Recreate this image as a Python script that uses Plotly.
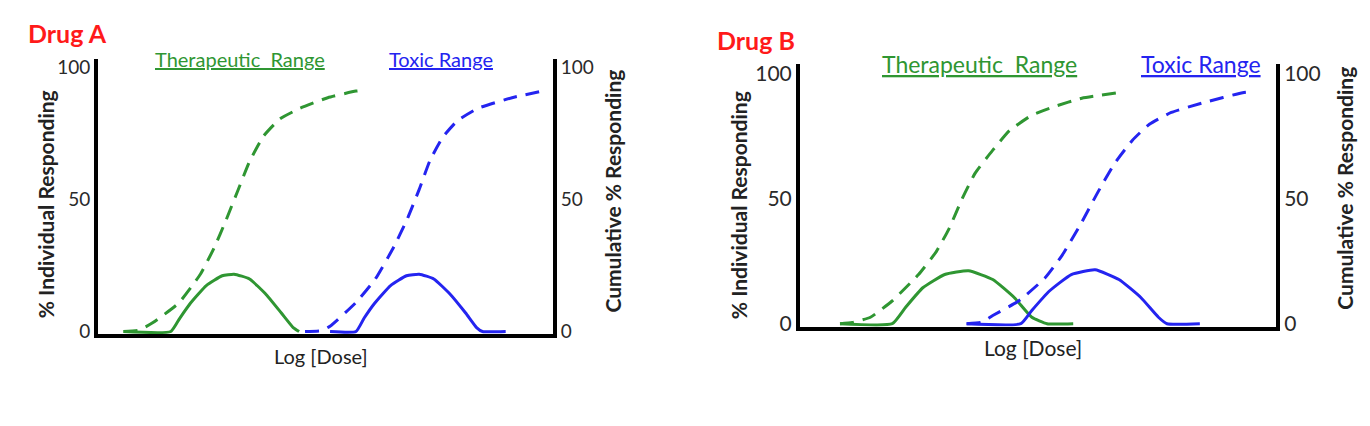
import plotly.graph_objects as go

W, H = 1370, 426
FONT = "Lato"
GREEN = "#2f9632"
BLUE = "#2424f0"

# x = position along Log[Dose] axis (0-100 % of axis width); y = % responding
# ---------- Drug A ----------
a_ther_ind_x = [5.6, 16.0, 18.0, 20.3, 23.8, 27.3, 29.9, 33.3, 36.8, 40.3, 42.9, 44.2]
a_ther_ind_y = [0, 0, 5.1, 10.7, 17.4, 21.1, 21.7, 19.9, 14.3, 7.0, 1.5, 0]
a_tox_ind_x = [51.0, 56.7, 58.5, 60.8, 64.3, 67.8, 70.6, 73.8, 77.3, 80.8, 83.2, 84.5, 89.6]
a_tox_ind_y = [0, 0, 5.1, 10.7, 17.4, 21.1, 21.7, 19.9, 14.3, 7.0, 1.5, 0, 0]
a_ther_cum_x = [5.6, 9.0, 12.0, 17.7, 22.5, 25.5, 28.1, 30.7, 33.3, 36.4, 40.0, 44.4, 50.5, 56.7, 58.5]
a_ther_cum_y = [0, 0.5, 3.3, 10.7, 21.7, 31.6, 42.0, 53.2, 64.3, 74.0, 80.5, 84.5, 88.5, 91.0, 91.3]
a_tox_cum_x = [45.5, 49.0, 51.0, 56.7, 61.0, 65.0, 68.0, 70.6, 73.0, 75.8, 79.0, 83.5, 91.0, 98.5]
a_tox_cum_y = [0, 0.3, 2.0, 11.0, 20.0, 32.0, 42.7, 53.8, 64.9, 73.6, 79.8, 84.5, 88.5, 91.3]

# ---------- Drug B ----------
b_ther_ind_x = [8.4, 19.4, 22.2, 25.8, 30.4, 35.4, 40.5, 45.0, 48.7, 51.9, 57.4]
b_ther_ind_y = [0, 0, 6.6, 14.4, 19.7, 21.2, 17.7, 10.5, 2.6, 0, 0]
b_tox_ind_x = [35.0, 46.4, 48.7, 52.4, 57.0, 62.0, 67.0, 71.6, 75.3, 77.1, 84.0]
b_tox_ind_y = [0, 0, 5.3, 13.1, 19.7, 21.6, 17.7, 10.5, 2.6, 0, 0]
b_ther_cum_x = [8.4, 11.0, 14.8, 19.4, 24.9, 28.6, 31.3, 34.0, 36.8, 40.5, 44.0, 48.7, 53.5, 59.2, 67.9]
b_ther_cum_y = [0, 0.5, 2.6, 9.2, 19.7, 28.8, 38.0, 49.8, 60.3, 69.5, 77.3, 83.5, 87.0, 90.3, 92.8]
b_tox_cum_x = [35.0, 38.0, 40.5, 46.0, 51.5, 55.1, 58.8, 62.5, 66.1, 69.8, 73.4, 78.0, 84.9, 93.0, 94.5]
b_tox_cum_y = [0, 0.5, 3.3, 9.2, 18.4, 27.5, 39.3, 52.4, 64.2, 73.4, 79.9, 84.6, 88.6, 92.5, 92.8]

y_ticks = [0, 50, 100]
y_ticktext = ["0", "50", "100"]


def px(x):
    return x / W


def py(y):
    return 1 - y / H


fig = go.Figure()

DASH = "14px,9px"


def add(x, y, color, xa, ya, dashed):
    fig.add_trace(go.Scatter(
        x=x, y=y, xaxis=xa, yaxis=ya, mode="lines",
        line=dict(color=color, width=3, shape="spline", smoothing=0.45,
                  dash=DASH if dashed else "solid"),
        showlegend=False, hoverinfo="skip"))


add(a_ther_ind_x, a_ther_ind_y, GREEN, "x", "y", False)
add(a_tox_ind_x, a_tox_ind_y, BLUE, "x", "y", False)
add(a_ther_cum_x, a_ther_cum_y, GREEN, "x", "y2", True)
add(a_tox_cum_x, a_tox_cum_y, BLUE, "x", "y2", True)

add(b_ther_ind_x, b_ther_ind_y, GREEN, "x2", "y3", False)
add(b_tox_ind_x, b_tox_ind_y, BLUE, "x2", "y3", False)
add(b_ther_cum_x, b_ther_cum_y, GREEN, "x2", "y4", True)
add(b_tox_cum_x, b_tox_cum_y, BLUE, "x2", "y4", True)

# Panel geometry (pixels)
A_L, A_R, A_B, A_T = 98, 553, 340, 57
B_L, B_R, B_B, B_T = 800, 1276, 332, 62
A_RANGE = [-1.1, 103.0]
B_RANGE = [-1.17, 103.9]

common_x = dict(range=[0, 100], showline=True, linecolor="black", linewidth=4,
                showticklabels=False, showgrid=False, zeroline=False, ticks="",
                layer="below traces", fixedrange=True)


def yax(domain, rng, side, anchor, size, overlay=None):
    d = dict(domain=domain, range=rng, side=side, anchor=anchor,
             showline=True, linecolor="black", linewidth=4,
             showgrid=False, zeroline=False, ticks="",
             tickvals=y_ticks, ticktext=y_ticktext,
             tickfont=dict(family=FONT, size=size, color="#2a2a2a"),
             ticklabelstandoff=0, layer="below traces", fixedrange=True)
    if overlay:
        d["overlaying"] = overlay
    return d


fig.update_layout(
    width=W, height=H, margin=dict(l=0, r=0, t=0, b=0),
    paper_bgcolor="white", plot_bgcolor="white",
    xaxis=dict(domain=[px(A_L), px(A_R)], anchor="y", **common_x),
    yaxis=yax([py(A_B), py(A_T)], A_RANGE, "left", "x", 19),
    yaxis2=yax([py(A_B), py(A_T)], A_RANGE, "right", "x", 19, overlay="y"),
    xaxis2=dict(domain=[px(B_L), px(B_R)], anchor="y3", **common_x),
    yaxis3=yax([py(B_B), py(B_T)], B_RANGE, "left", "x2", 21),
    yaxis4=yax([py(B_B), py(B_T)], B_RANGE, "right", "x2", 21, overlay="y3"),
)


def ann(text, x, y, size, color, angle=0, bold=False, xanchor="center"):
    fig.add_annotation(
        text=f"<b>{text}</b>" if bold else text,
        x=px(x), y=py(y), xref="paper", yref="paper",
        xanchor=xanchor, yanchor="middle", showarrow=False, textangle=angle,
        font=dict(family=FONT, size=size, color=color))


ann("Drug A", 26, 30, 25, "#ff1a1a", bold=True, xanchor="left")
ann("Drug B", 715, 37, 25, "#ff1a1a", bold=True, xanchor="left")

ann("<u>Therapeutic  Range</u>", 240, 57, 20, GREEN)
ann("<u>Toxic Range</u>", 441, 57, 20, BLUE)
ann("<u>Therapeutic  Range</u>", 979, 62, 23, GREEN)
ann("<u>Toxic Range</u>", 1201, 62, 23, BLUE)

ann("% Individual Responding", 45, 206, 21, "#222222", angle=-90, bold=True)
ann("Cumulative % Responding", 613, 193, 21, "#222222", angle=-90, bold=True)
ann("% Individual Responding", 738, 207, 21, "#222222", angle=-90, bold=True)
ann("Cumulative % Responding", 1345, 190, 21, "#222222", angle=-90, bold=True)

ann("Log [Dose]", 321, 362, 20, "#222222")
ann("Log [Dose]", 1033, 353, 21, "#222222")

fig.write_html("out.html")
